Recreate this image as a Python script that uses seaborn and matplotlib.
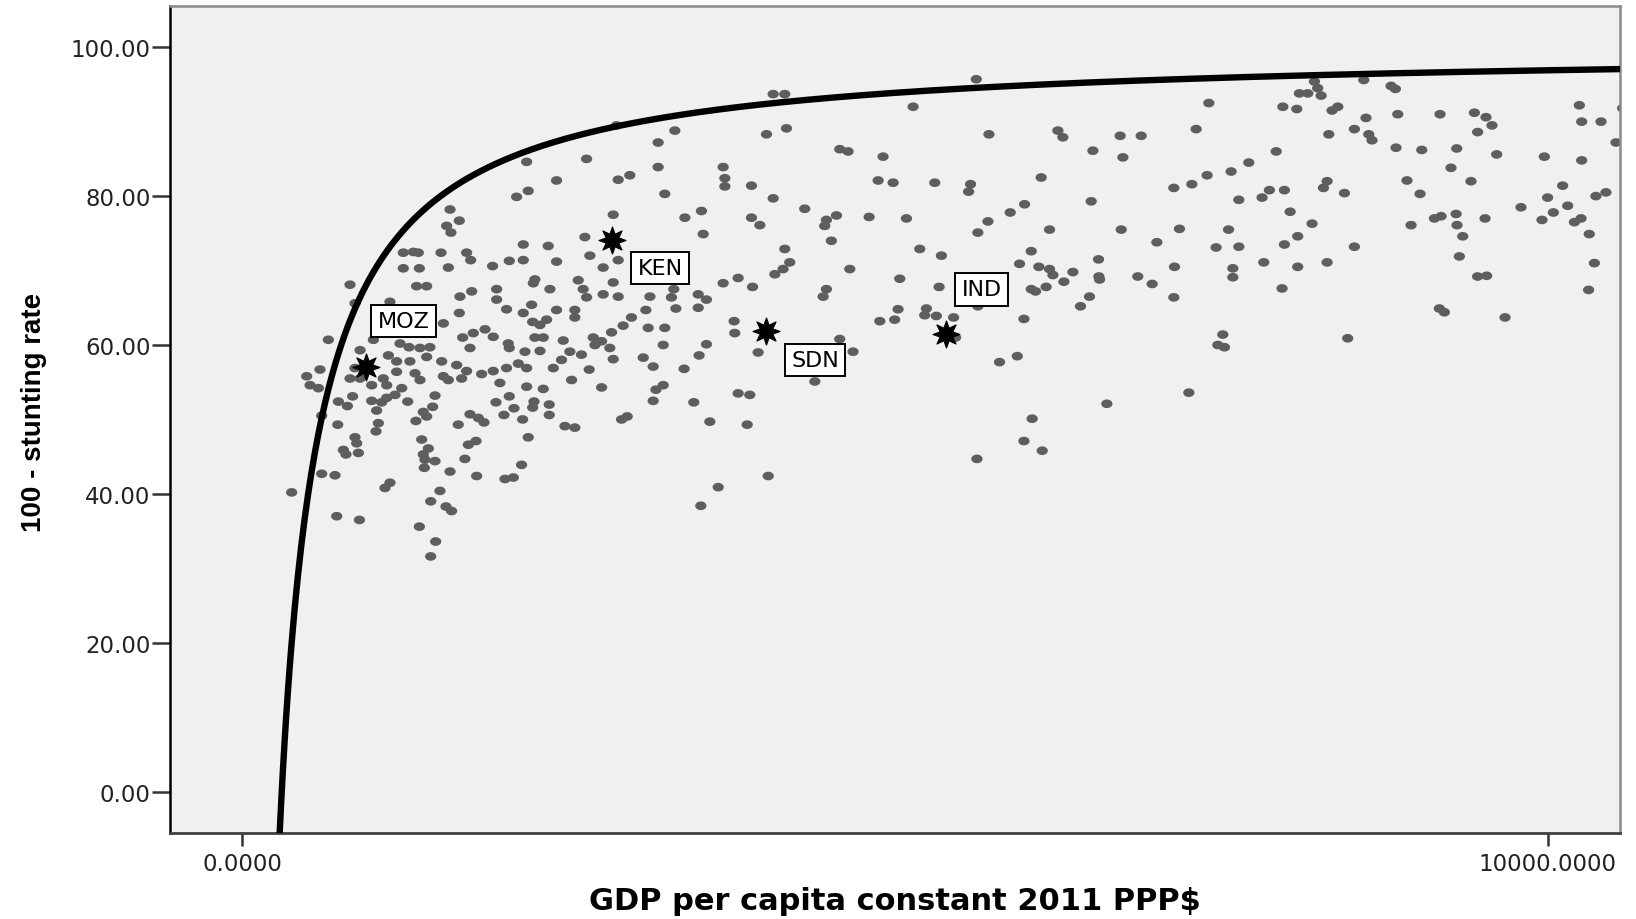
"""
Stunting vs GDP per capita: SPSS-style scatter with inverse fit line
"""

import numpy as np
import pandas as pd
import matplotlib
matplotlib.use("Agg")
import matplotlib.pyplot as plt
import seaborn as sns


# -------------------------
# Data
# -------------------------
# (GDP per capita, 100 - stunting rate) for the grey country-year points
pts_poorest = [
    (2179, 84.6), (2408, 82.1), (2102, 79.9), (2191, 80.7), (1592, 78.2), (1663, 76.7), (1566, 76.0),
    (1599, 75.1), (2153, 73.5), (2344, 73.3), (1234, 72.4), (1311, 72.5), (1349, 72.4), (1523, 72.4),
    (1719, 72.4), (1750, 71.4), (1234, 70.3), (1357, 70.3), (1579, 70.4), (1918, 70.6), (2046, 71.3),
    (2153, 71.4), (2408, 71.2), (2242, 68.8), (2230, 68.3), (2357, 67.5), (1336, 67.9), (1413, 67.9),
    (826, 68.1), (1949, 67.5), (1949, 66.1), (1668, 66.5), (1758, 67.2), (1132, 65.8), (864, 65.6),
    (2025, 64.8), (2153, 64.3), (2217, 65.4), (2408, 64.7), (1663, 64.3), (1541, 62.9), (2225, 63.1),
    (2332, 63.4), (2281, 62.7), (660, 60.7), (903, 59.3), (1005, 60.7), (1209, 60.2), (1278, 59.7),
    (1362, 59.6), (1438, 59.7), (1689, 61.0), (1770, 61.6), (1860, 62.1), (1923, 61.1), (1745, 59.6),
    (2038, 60.2), (2046, 59.6), (2166, 59.1), (2281, 59.2), (2242, 61.0), (2306, 61.0), (1120, 58.6),
    (1183, 57.8), (1285, 57.8), (1413, 58.4), (1528, 57.8), (1643, 57.3), (1719, 56.5), (1834, 56.1),
    (1923, 56.5), (2025, 56.9), (2115, 57.5), (2179, 56.9), (2383, 56.9), (596, 56.7), (494, 55.8),
    (520, 54.6), (584, 54.2), (826, 55.5), (864, 56.9), (903, 55.5), (1081, 55.5), (1183, 56.4),
    (1324, 56.2), (1362, 55.3), (1541, 55.8), (1579, 55.3), (1681, 55.5), (1974, 54.9), (2179, 54.4),
    (2306, 54.1), (992, 54.6), (1107, 54.6), (1222, 54.2),
    (737, 52.4), (806, 51.8), (846, 53.1), (992, 52.5), (1068, 52.3), (1107, 52.9), (1171, 53.3),
    (1030, 51.2), (1268, 52.4), (1477, 53.2), (1459, 51.7), (1387, 51.0), (1413, 50.4), (1331, 49.8),
    (1043, 49.5), (1025, 48.4), (732, 49.3), (609, 50.5), (864, 47.6), (877, 46.8), (775, 45.9),
    (795, 45.3), (890, 45.5), (1375, 47.3), (1426, 46.1), (1387, 45.3), (1400, 44.6), (1477, 44.4),
    (1395, 43.5), (1592, 43.0), (609, 42.7), (711, 42.5), (1132, 41.5), (1094, 40.8), (379, 40.2),
    (1515, 40.4), (1444, 39.0), (1561, 38.3), (1604, 37.7), (724, 37.0), (898, 36.5), (1357, 35.6),
    (1482, 33.6), (1444, 31.6), (1655, 49.3), (1745, 50.7), (1809, 50.2), (1852, 49.6), (1732, 46.6),
    (1791, 47.1), (1706, 44.7), (1796, 42.4), (1944, 52.3), (2046, 53.1), (2082, 51.5), (2005, 50.6),
    (2148, 50.0), (2235, 52.4), (2225, 51.6), (2352, 52.0), (2352, 50.6), (2191, 47.6), (2140, 43.9),
    (2013, 42.0), (2077, 42.2),
]

pts_lower_middle = [
    (4067, 93.7), (4156, 93.7), (5139, 92.0), (2867, 89.5), (3314, 88.8), (3186, 87.2), (4016, 88.3),
    (4169, 89.1), (2638, 85.0), (3186, 83.9), (3684, 83.9), (4577, 86.3), (4641, 86.0), (4909, 85.3),
    (2880, 82.2), (2969, 82.8), (3237, 80.3), (3697, 82.4), (3697, 81.3), (3901, 81.4), (4067, 79.7),
    (4309, 78.3), (4871, 82.1), (4986, 81.8), (5305, 81.8), (2842, 77.5), (3391, 77.1), (3518, 78.0),
    (3901, 77.1), (3965, 76.1), (4475, 76.8), (4552, 77.4), (4462, 76.0), (4802, 77.2), (5088, 77.0),
    (2625, 74.5), (3531, 74.9), (4513, 74.0), (4156, 72.9), (5190, 72.9), (5356, 72.0), (2663, 72.0),
    (2880, 71.4), (2765, 70.4), (4194, 71.1), (4143, 70.2), (4080, 69.5), (4654, 70.2), (2574, 68.7),
    (2612, 67.5), (2638, 66.4), (2842, 68.4), (2765, 66.8), (2880, 66.5), (3123, 66.5), (3288, 66.4),
    (3306, 67.5), (3493, 66.8), (3556, 66.1), (3493, 65.0), (3684, 68.3), (3799, 69.0), (3909, 67.8),
    (4475, 67.5), (4450, 66.5), (5037, 68.9), (5338, 67.8), (2548, 64.7), (2548, 63.7), (3092, 64.7),
    (3322, 64.9), (2982, 63.7), (2918, 62.6), (2829, 61.7), (2689, 61.0), (2753, 60.5), (2816, 59.6),
    (2702, 60.0), (3110, 62.3), (3237, 62.3), (2459, 60.6), (2510, 59.1), (2599, 58.7), (2446, 58.0),
    (2658, 56.7), (2842, 58.1), (3072, 58.3), (3225, 60.0), (3148, 57.1), (3385, 56.8), (3556, 60.1),
    (3500, 58.6), (3768, 63.2), (3773, 61.6), (3952, 59.0), (4577, 60.8), (4679, 59.1), (4386, 55.1),
    (4884, 63.2), (4998, 63.4), (5024, 64.8), (5241, 64.9), (5228, 64.0), (5317, 63.9), (2523, 55.3),
    (2753, 54.3), (3169, 54.0), (3225, 54.6), (3148, 52.5), (3459, 52.3), (3799, 53.5), (3888, 53.3),
    (2906, 50.0), (2949, 50.4), (2472, 49.1), (2548, 48.9), (3582, 49.7), (3868, 49.3), (4029, 42.4),
    (3646, 40.9), (3513, 38.4),
]

pts_upper_middle = [
    (5623, 95.7), (7404, 92.5), (5720, 88.3), (6248, 88.8), (6286, 87.9), (6725, 88.1), (6886, 88.1),
    (7307, 89.0), (6516, 86.1), (6746, 85.2), (7920, 86.0), (6120, 82.5), (5579, 81.6), (5564, 80.6),
    (7136, 81.1), (7274, 81.6), (7391, 82.8), (7575, 83.3), (7710, 84.5), (6503, 79.3), (5993, 78.9),
    (5883, 77.8), (5712, 76.6), (5635, 75.1), (7634, 79.5), (7812, 79.8), (7868, 80.8), (6184, 75.5),
    (6733, 75.5), (7179, 75.6), (7555, 75.5), (7006, 73.8), (7460, 73.1), (7634, 73.2), (6044, 72.6),
    (5954, 70.9), (6102, 70.5), (6184, 70.2), (6210, 69.4), (6363, 69.8), (6294, 68.5), (6559, 71.5),
    (6562, 69.2), (6567, 68.8), (6860, 69.2), (6970, 68.2), (7141, 70.5), (7136, 66.4), (7588, 70.3),
    (7588, 69.1), (7825, 71.1), (6044, 67.5), (6077, 67.2), (6158, 67.8), (6490, 66.5), (6421, 65.2),
    (5635, 65.2), (5449, 63.7), (5988, 63.5), (5464, 61.0), (5801, 57.7), (5937, 58.5), (7511, 61.4),
    (7473, 60.0), (7524, 59.7), (7251, 53.6), (6623, 52.1), (6051, 50.1), (5988, 47.1), (6128, 45.8),
    (5628, 44.7),
]

pts_richest = [
    (8213, 95.4), (8238, 94.5), (8098, 93.8), (8162, 93.8), (8264, 93.5), (8591, 95.6), (8800, 94.8),
    (8833, 94.4), (7971, 92.0), (8078, 91.7), (8348, 91.5), (8392, 92.0), (8608, 90.5), (8851, 91.0),
    (9175, 91.0), (9438, 91.2), (9527, 90.6), (9573, 89.5), (9463, 88.6), (10242, 92.2), (10260, 90.0),
    (10408, 90.0), (10523, 87.2), (10574, 91.8), (8323, 88.3), (8519, 89.0), (8629, 88.3), (8654, 87.5),
    (8838, 86.5), (9035, 86.2), (9303, 86.4), (9259, 83.8), (9609, 85.6), (9974, 85.3), (10260, 84.8),
    (7983, 80.8), (8310, 82.0), (8282, 81.1), (8443, 80.4), (8922, 82.1), (9022, 80.3), (9412, 82.0),
    (10114, 81.4), (9999, 79.8), (9795, 78.5), (10153, 78.7), (10043, 77.8), (9956, 76.8), (10204, 76.5),
    (10255, 77.0), (10369, 80.0), (10446, 80.5), (10318, 74.9), (10357, 71.0), (10313, 67.4), (8027, 77.9),
    (8195, 76.3), (8085, 74.6), (7983, 73.5), (8519, 73.2), (8085, 70.5), (8310, 71.1), (7965, 67.6),
    (8953, 76.1), (9132, 77.0), (9183, 77.3), (9298, 77.6), (9305, 76.1), (9349, 74.6), (9520, 77.0),
    (9323, 71.9), (9463, 69.2), (9532, 69.3), (9170, 64.9), (9208, 64.4), (9673, 63.7), (8468, 60.9),
]

# highlighted countries
country_codes = ["MOZ", "KEN", "SDN", "IND"]
country_gdp = [949, 2829, 4016, 5388]
country_rate = [57.1, 74.1, 61.9, 61.5]

# inverse model fit: y = b0 + b1 / x
fit_b0 = 99.93
fit_b1 = -30280.0

x_ticks = [0, 10000]
x_tick_labels = ["0.0000", "10000.0000"]
y_ticks = [0, 20, 40, 60, 80, 100]
y_tick_labels = ["0.00", "20.00", "40.00", "60.00", "80.00", "100.00"]


# -------------------------
# Build frames
# -------------------------
all_pts = pts_poorest + pts_lower_middle + pts_upper_middle + pts_richest
df = pd.DataFrame(all_pts, columns=["gdp", "rate"])

countries = pd.DataFrame({"code": country_codes, "gdp": country_gdp, "rate": country_rate})

fit_x = np.linspace(285, 10600, 800)
fit = pd.DataFrame({"gdp": fit_x, "rate": fit_b0 + fit_b1 / fit_x})


# -------------------------
# Plot
# -------------------------
sns.set_style("white")
plt.rcParams["font.family"] = ["DejaVu Sans"]

fig = plt.figure(figsize=(16.36, 9.2), dpi=100)
ax = fig.add_axes([0.1039, 0.0935, 0.8866, 0.8986])
ax.set_facecolor("#f0f0f0")

# slightly wide dots, like the stretched SPSS output
t = np.linspace(0, 2 * np.pi, 30)
dot = np.column_stack([1.3 * np.cos(t), np.sin(t)])

sns.scatterplot(data=df, x="gdp", y="rate", ax=ax, marker=dot, s=66,
                color="#5e5e5e", edgecolor="none", linewidth=0, zorder=2)

sns.lineplot(data=fit, x="gdp", y="rate", ax=ax, color="black", lw=4.6,
             sort=False, zorder=3)

sns.scatterplot(data=countries, x="gdp", y="rate", ax=ax, marker=(8, 1, 0), s=380,
                color="black", edgecolor="black", linewidth=0.8, zorder=4)

label_offsets = {"MOZ": (27, 33), "KEN": (35, -20), "SDN": (35, -21), "IND": (26, 32)}
for _, row in countries.iterrows():
    ax.annotate(row["code"], (row["gdp"], row["rate"]),
                xytext=label_offsets[row["code"]], textcoords="offset points",
                ha="center", va="center", fontsize=16, color="black", zorder=5,
                bbox=dict(boxstyle="square,pad=0.28", fc="white", ec="black", lw=1.4))

ax.set_xlim(-553, 10557)
ax.set_ylim(-5.55, 105.5)

ax.set_xticks(x_ticks)
ax.set_xticklabels(x_tick_labels)
ax.set_yticks(y_ticks)
ax.set_yticklabels(y_tick_labels)

ax.tick_params(axis="y", direction="out", length=13, width=1.8, pad=1,
               labelsize=16.5, color="#333333", labelcolor="#222222", left=True)
ax.tick_params(axis="x", direction="out", length=9.5, width=1.8, pad=4,
               labelsize=16.5, color="#333333", labelcolor="#222222", bottom=True)

ax.set_xlabel("GDP per capita constant 2011 PPP$", fontsize=22, fontweight="bold",
              color="black")
ax.set_ylabel("100 - stunting rate", fontsize=20, fontweight="bold", color="black",
              family=["Liberation Sans", "DejaVu Sans"])
ax.xaxis.label.set_va("center")
ax.xaxis.set_label_coords(0.5, -0.082)
ax.yaxis.label.set_va("center")
ax.yaxis.set_label_coords(-0.0935, 0.51)

for side, col, lw in [("left", "black", 1.8), ("bottom", "#404040", 2.0),
                      ("top", "#8a8a8a", 1.8), ("right", "#8a8a8a", 1.8)]:
    ax.spines[side].set_visible(True)
    ax.spines[side].set_color(col)
    ax.spines[side].set_linewidth(lw)

ax.grid(False)

fig.savefig("out.png", dpi=100, facecolor="white")
